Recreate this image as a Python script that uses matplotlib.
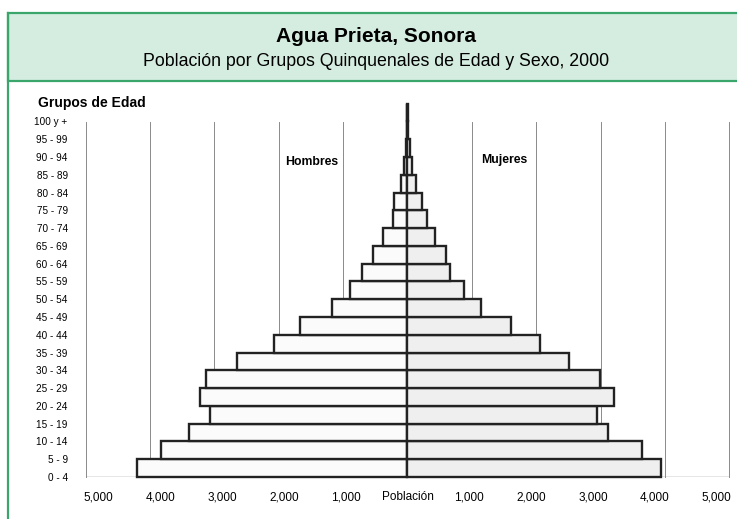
import matplotlib.pyplot as plt
from matplotlib.patches import Rectangle
from matplotlib.lines import Line2D

# age groups, bottom to top
age_groups = ["0 - 4", "5 - 9", "10 - 14", "15 - 19", "20 - 24", "25 - 29", "30 - 34",
              "35 - 39", "40 - 44", "45 - 49", "50 - 54", "55 - 59", "60 - 64", "65 - 69",
              "70 - 74", "75 - 79", "80 - 84", "85 - 89", "90 - 94", "95 - 99", "100 y +"]
hombres = [4209, 3828, 3389, 3076, 3227, 3138, 2642, 2078, 1676, 1173, 890,
           702, 534, 377, 220, 209, 105, 50, 25, 8, 2]
mujeres = [3938, 3641, 3118, 2938, 3215, 2985, 2503, 2051, 1615, 1140, 880,
           660, 592, 435, 304, 225, 136, 65, 35, 10, 3]
x_ticks = [-5000, -4000, -3000, -2000, -1000, 0, 1000, 2000, 3000, 4000, 5000]
x_labels = ["5,000", "4,000", "3,000", "2,000", "1,000", "Población",
            "1,000", "2,000", "3,000", "4,000", "5,000"]

GREEN = "#3aa66b"
LIGHT_GREEN = "#d5ede0"
W, H = 737, 519

plt.rcParams["font.family"] = ["Liberation Sans", "DejaVu Sans"]


def fx(px):
    return px / W


def fy(py):
    return 1 - py / H


fig = plt.figure(figsize=(W / 100, H / 100), dpi=100)

# header box and green frame
fig.add_artist(Line2D([fx(8), fx(8)], [fy(13), -0.01], color=GREEN, lw=1.6))
fig.add_artist(Rectangle((fx(8), fy(81)), 1.0, fy(13) - fy(81), facecolor=LIGHT_GREEN,
                         edgecolor=GREEN, lw=1.6))
fig.text(fx(376), fy(37), "Agua Prieta, Sonora", ha="center", va="center",
         fontsize=15, fontweight="bold")
fig.text(fx(376), fy(62), "Población por Grupos Quinquenales de Edad y Sexo, 2000",
         ha="center", va="center", fontsize=12.8)
fig.text(fx(38), fy(103), "Grupos de Edad", ha="left", va="center",
         fontsize=10, fontweight="bold")

ax = fig.add_axes([fx(85.7), fy(477), fx(729.3) - fx(85.7), fy(121.5) - fy(477)])
ypos = list(range(len(age_groups)))

for v in x_ticks:
    if v != 0:
        ax.axvline(v, color="#8a8a8a", lw=0.7, zorder=0, clip_on=False)

ax.barh(ypos, [-h for h in hombres], height=1, align="edge", color="#fbfbfb",
        edgecolor="#222222", lw=1.7, clip_on=False, zorder=2)
ax.barh(ypos, mujeres, height=1, align="edge", color="#efefef",
        edgecolor="#222222", lw=1.7, clip_on=False, zorder=2)
ax.axhline(0, color="#808080", lw=1.0, zorder=1)

ax.set_xlim(-5000, 5000)
ax.set_ylim(0, 20)
ax.set_yticks(ypos[:-1] + [20])
ax.set_yticklabels(age_groups, fontsize=7.2)
ax.tick_params(axis="y", length=0, pad=13)
ax.set_xticks([])
# Excel put the value labels slightly inside the gridlines
for v, lab in zip(x_ticks, x_labels):
    ax.text(v * 0.96, -1.3, lab, ha="center", va="baseline", fontsize=8.5)
for s in ax.spines.values():
    s.set_visible(False)

ax.text(-1485, 17.74, "Hombres", ha="center", va="center", fontsize=8.8, fontweight="bold")
ax.text(1500, 17.83, "Mujeres", ha="center", va="center", fontsize=8.8, fontweight="bold")

fig.savefig("out.png", dpi=100)
